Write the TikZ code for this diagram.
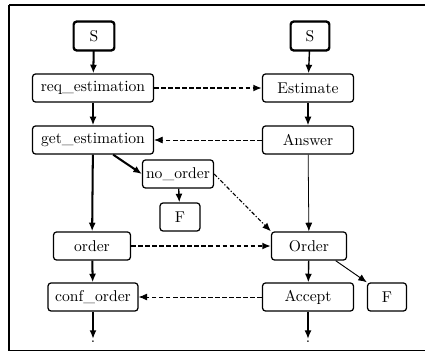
\documentclass[tikz,border=0pt]{standalone}
\usepackage{tikz}
\usetikzlibrary{arrows.meta, positioning, calc}
\definecolor{inkline}{HTML}{000000}
\newcommand{\statebox}[5]{%
  \node[draw=inkline, line width=0.8pt, rounded corners=2pt, fill=white,
        minimum width=#4*0.64pt, minimum height=18pt, inner sep=1pt,
        align=center] (#1) at (#2,#3) {#5};}

\begin{document}
\begin{tikzpicture}[x=0.64pt, y=-0.64pt, font=\normalsize,
    flow/.style={-{Latex[length=5.5pt, width=4.5pt]}, line width=0.9pt},
    mainflow/.style={flow, line width=1.3pt},
    sendmsg/.style={flow, line width=1.3pt, dash pattern=on 3pt off 1.5pt},
    replymsg/.style={flow, line width=0.5pt, dash pattern=on 3pt off 1.5pt}]
      \useasboundingbox (0,0) rectangle (425,352);
      % frame
      \draw[line width=1.6pt] (9,5) -- (430,5);
      \draw[line width=0.8pt] (9,5) -- (9,350.5) -- (430,350.5);
      % client side
      \statebox{cS}{94}{36}{40}{S}
      \statebox{reqest}{93}{88}{121}{req\_estimation}
      \statebox{getest}{93}{140}{121}{get\_estimation}
      \statebox{noorder}{178}{174}{71}{no\_order}
      \statebox{cF}{180}{217}{40}{F}
      \statebox{corder}{92}{246}{77}{order}
      \statebox{conford}{93}{297}{90}{conf\_order}
      \node[inner sep=0pt] (cend) at (93,342) {.};
      % server side
      \statebox{sS}{310}{36}{38}{S}
      \statebox{estim}{308}{88}{91}{Estimate}
      \statebox{answer}{308}{140}{91}{Answer}
      \statebox{sorder}{309}{246}{75}{Order}
      \statebox{accept}{308}{297}{91}{Accept}
      \statebox{sF}{387}{297}{39}{F}
      \node[inner sep=0pt] (send) at (308,342) {.};
      \draw[line width=1.1pt, rounded corners=2pt] (cS.south west) rectangle (cS.north east);
      \draw[line width=1.1pt, rounded corners=2pt] (sS.south west) rectangle (sS.north east);
      % client transitions
      \draw[mainflow] (cS) -- (reqest);
      \draw[mainflow] (reqest) -- (getest);
      \draw[mainflow] (getest) -- (corder);
      \draw[mainflow] ($(getest.south east)!0.67!(getest.south)$) -- (noorder.west);
      \draw[flow] (noorder) -- (cF);
      \draw[mainflow] (corder) -- (conford);
      \draw[mainflow] (conford) -- ($(cend.north)+(0,-2)$);
      % server transitions
      \draw[flow] (sS) -- (estim);
      \draw[flow] (estim) -- (answer);
      \draw[flow, line width=0.5pt] (answer) -- (sorder);
      \draw[flow] (sorder) -- (accept);
      \draw[flow, line width=0.6pt] ($(sorder.south east)!0.3!(sorder.south)$) -- (sF.north west);
      \draw[flow] (accept) -- ($(send.north)+(0,-2)$);
      % messages
      \draw[sendmsg] (reqest) -- (estim);
      \draw[replymsg] (answer) -- (getest);
      \draw[flow, line width=0.7pt, dash pattern=on 2.5pt off 1.2pt on 0.8pt off 1.2pt]
            (noorder.east) -- (sorder.north west);
      \draw[sendmsg] (corder) -- (sorder);
      \draw[replymsg] (accept) -- (conford);
    \end{tikzpicture}
\end{document}
